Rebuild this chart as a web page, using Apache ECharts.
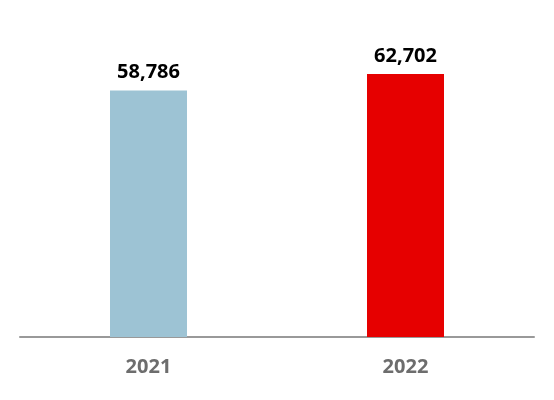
<!DOCTYPE html>
<html><head><meta charset="utf-8">
<script src="https://cdn.jsdelivr.net/npm/echarts@6/dist/echarts.min.js"></script>
<style>html,body{margin:0;padding:0;background:#fff}#c{width:554px;height:400px}</style>
</head><body><div id="c"></div>
<script>
const categories = ['2021', '2022'];
const values = [58786, 62702];
const colors = ['#9dc3d4', '#e60000'];
const chart = echarts.init(document.getElementById('c'));
chart.setOption({
  animation: false,
  grid: { left: 20, right: 20, top: 43.4, bottom: 63 },
  xAxis: {
    type: 'category', data: categories,
    axisLine: { lineStyle: { color: '#999', width: 2 } },
    axisTick: { show: false },
    axisLabel: { color: '#6d6d6d', fontSize: 20, fontWeight: 'bold', margin: 20, fontFamily: 'Noto Sans' }
  },
  yAxis: { type: 'value', min: 0, max: 70000, show: false, splitLine: { show: false } },
  series: [{
    type: 'bar', barWidth: 77,
    data: values.map((v, i) => ({ value: v, itemStyle: { color: colors[i] } })),
    label: {
      show: true, position: 'top', distance: 8, color: '#000', fontSize: 20, fontWeight: 'bold', fontFamily: 'Noto Sans',
      formatter: p => p.value.toLocaleString('en-US')
    }
  }]
});
</script></body></html>
